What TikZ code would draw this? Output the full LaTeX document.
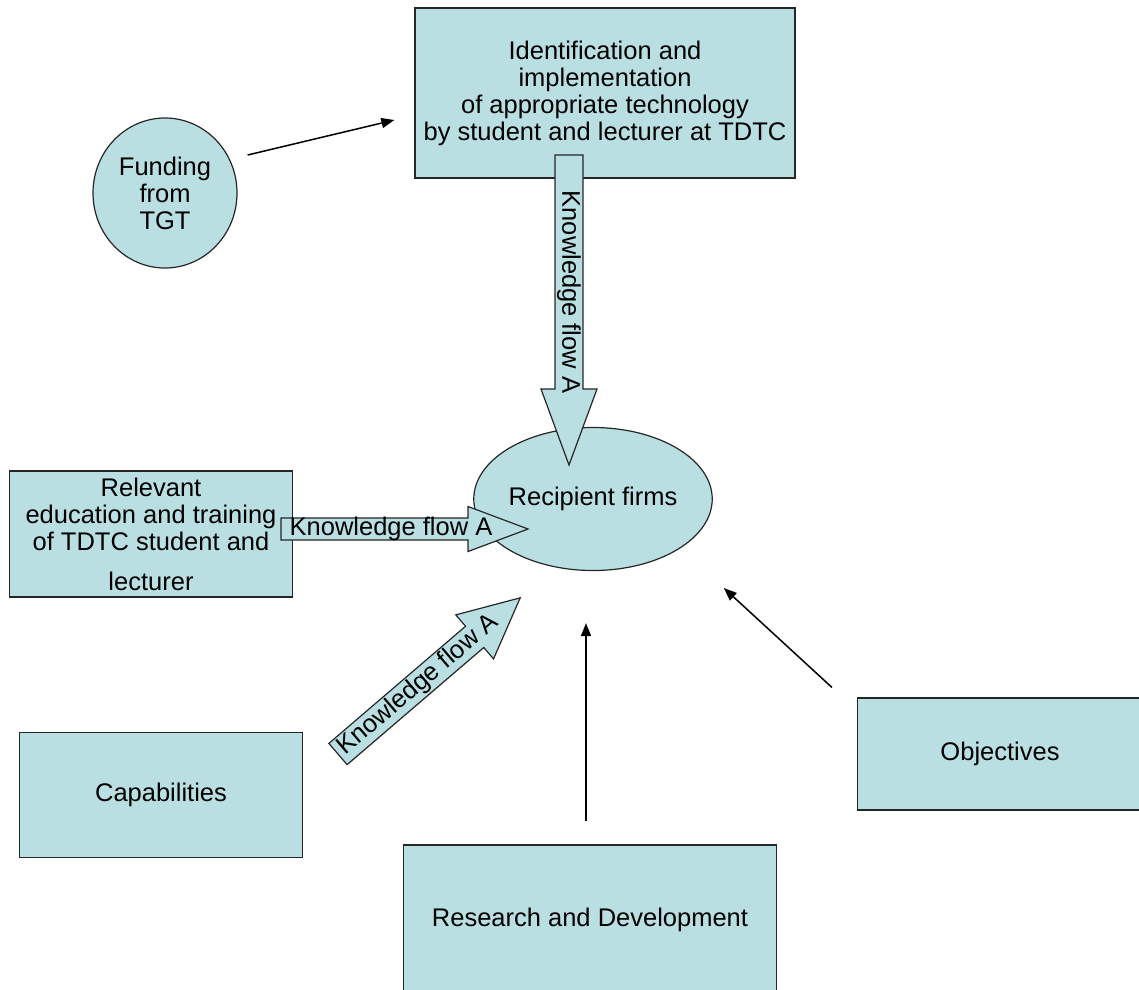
\documentclass[tikz,border=0pt]{standalone}
\usepackage{fontspec}
\setmainfont{Liberation Sans}
\usetikzlibrary{arrows.meta, shapes.geometric}
\usepackage{xcolor}
\definecolor{boxblue}{RGB}{186,223,226}

\begin{document}
\begin{tikzpicture}[x=1pt, y=-1pt,
    every node/.style={font=\fontsize{25.5}{27}\selectfont, align=center},
    box/.style 2 args={draw=black!85, fill=boxblue, line width=1.2pt,
        minimum width=#1, minimum height=#2, inner sep=0pt},
    oval/.style 2 args={ellipse, draw=black!85, fill=boxblue, line width=1.2pt,
        minimum width=#1, minimum height=#2, inner sep=0pt},
    link/.style={-{Triangle[length=13pt, width=10pt]}, line width=1.5pt},
    flow/.style={draw=black!85, fill=boxblue, line width=1.2pt}]
  \useasboundingbox (0,0) rectangle (1139,989);

  % the boxes and ovals
  \node[box={380}{170}] (tech) at (605,93)
      {Identification and\\implementation\\of appropriate technology\\by student and lecturer at TDTC};
  \node[oval={144}{150}] (fund) at (165,193) {Funding\\from\\TGT};
  \node[oval={236}{143}] (firms) at (593,499) {Recipient firms};
  \node[box={283}{126}] (edu) at (151,534)
      {Relevant\\education and training\\of TDTC student and\\[13pt]lecturer};
  \node[box={283}{125}] (cap) at (161,795) {Capabilities};
  \node[box={373}{150}] (rnd) at (590,920) {Research and Development};
  \node[box={285}{112}] (obj) at (1000,754) {Objectives};

  % knowledge flows: name/tail x/tail y/angle/length/shaft/head/head length/text pos
  \foreach \name/\x/\y/\a/\len/\sw/\hw/\hl/\t in
      {flowtop/569/155/-90/310/14/28/76/137,
       flowedu/281/529/0/247/11/22.5/60/110,
       flowcap/338/754/40.6/240/14/29/60/106}
  {
    \begin{scope}[shift={(\x,\y)}, rotate=\a]
      \draw[flow] (0,-\sw) -- (\len-\hl,-\sw) -- (\len-\hl,-\hw) -- (\len,0)
          -- (\len-\hl,\hw) -- (\len-\hl,\sw) -- (0,\sw) -- cycle;
      \node[transform shape, inner sep=0pt] (\name) at (\t,0) {Knowledge flow A};
    \end{scope}
  }

  % plain arrows
  \draw[link] ([shift={(10,-38)}]fund.east) -- ([shift={(-20,27)}]tech.west);
  \draw[link] ([shift={(-4,-23)}]rnd.north) -- ([shift={(-7,52)}]firms.south);
  \draw[link] ([shift={(-25,-10)}]obj.north west) -- ([shift={(11,89)}]firms.east);
\end{tikzpicture}
\end{document}
